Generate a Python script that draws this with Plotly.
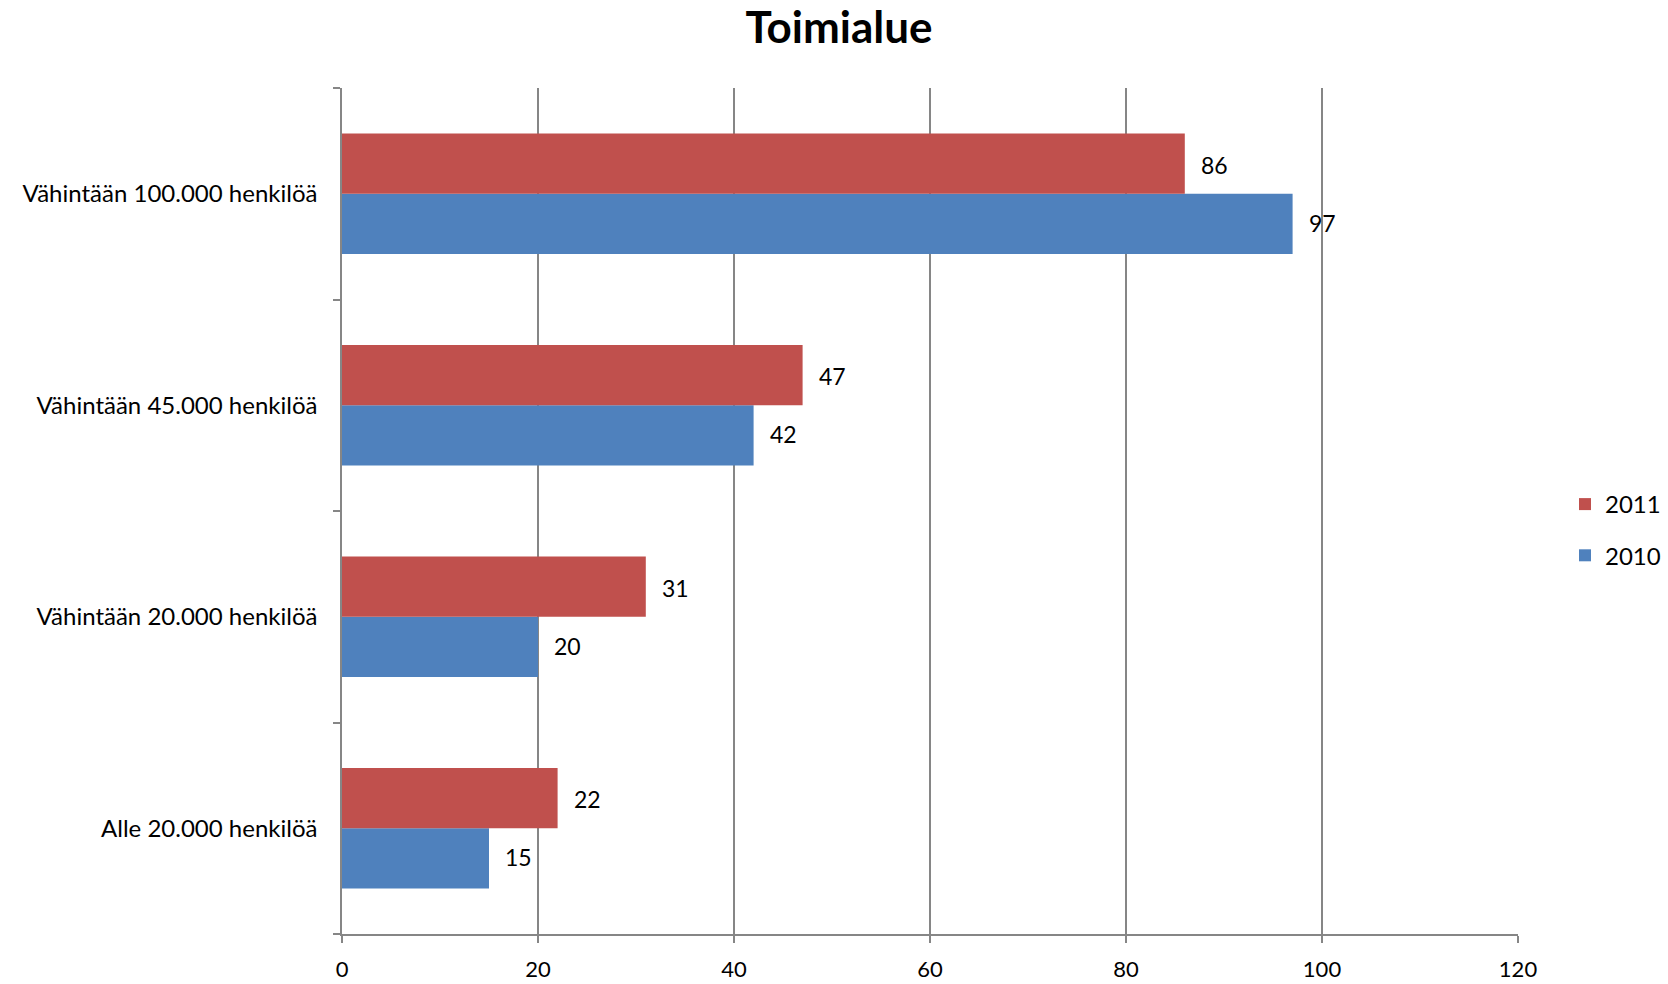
import plotly.graph_objects as go

# Categories listed bottom to top as they appear on the axis
categories = [
    "Alle 20.000 henkilöä",
    "Vähintään 20.000 henkilöä",
    "Vähintään 45.000 henkilöä",
    "Vähintään 100.000 henkilöä",
]
values_2011 = [22, 31, 47, 86]
values_2010 = [15, 20, 42, 97]
x_ticks = [0, 20, 40, 60, 80, 100, 120]

RED = "#C0504D"
BLUE = "#4F81BD"
AXIS = "#868686"
FONT = "Lato, 'Open Sans', sans-serif"

fig = go.Figure()
fig.add_trace(go.Bar(
    y=categories, x=values_2010, name="2010", orientation="h",
    marker=dict(color=BLUE, line=dict(width=0)), legendgroup="g2010", legendrank=2,
))
fig.add_trace(go.Bar(
    y=categories, x=values_2011, name="2011", orientation="h",
    marker=dict(color=RED, line=dict(width=0)), legendgroup="g2011", legendrank=1,
))

# Value labels to the right of each bar
annotations = []
for cat, v in zip(categories, values_2011):
    annotations.append(dict(x=v, y=cat, text=str(v), showarrow=False,
                            xanchor="left", yanchor="middle", xshift=14, yshift=29,
                            font=dict(size=23, color="#000000", family=FONT)))
for cat, v in zip(categories, values_2010):
    annotations.append(dict(x=v, y=cat, text=str(v), showarrow=False,
                            xanchor="left", yanchor="middle", xshift=14, yshift=-29,
                            font=dict(size=23, color="#000000", family=FONT)))

fig.update_layout(
    width=1668, height=984,
    margin=dict(l=342, r=150, t=88, b=50, autoexpand=False),
    paper_bgcolor="white", plot_bgcolor="white",
    barmode="group", bargap=0.43, bargroupgap=0,
    title=dict(text="<b>Toimialue</b>", x=839 / 1668, xanchor="center",
               y=1 - 28 / 984, yanchor="middle",
               font=dict(size=44, color="#000000", family=FONT)),
    font=dict(family=FONT, size=22, color="#000000"),
    legend=dict(xref="container", yref="container",
                x=1565 / 1668, y=1 - 530 / 984, xanchor="left", yanchor="middle",
                traceorder="grouped", tracegroupgap=17,
                font=dict(size=24, color="#000000", family=FONT),
                bgcolor="rgba(0,0,0,0)"),
    annotations=annotations,
    xaxis=dict(range=[0, 120], tickvals=x_ticks, ticktext=[str(t) for t in x_ticks],
               showgrid=True, gridcolor=AXIS, gridwidth=1.5,
               showline=True, linecolor=AXIS, linewidth=1.5,
               ticks="outside", ticklen=7, tickcolor=AXIS, tickwidth=1.5,
               zeroline=False, tickfont=dict(size=22), ticklabelstandoff=8,
               automargin=False),
    yaxis=dict(showline=True, linecolor=AXIS, linewidth=1.5,
               ticks="outside", tickson="boundaries", ticklen=7,
               tickcolor=AXIS, tickwidth=1.5, showgrid=False,
               tickfont=dict(size=24), ticklabelstandoff=18,
               automargin=False),
)

fig.write_html("out.html")
